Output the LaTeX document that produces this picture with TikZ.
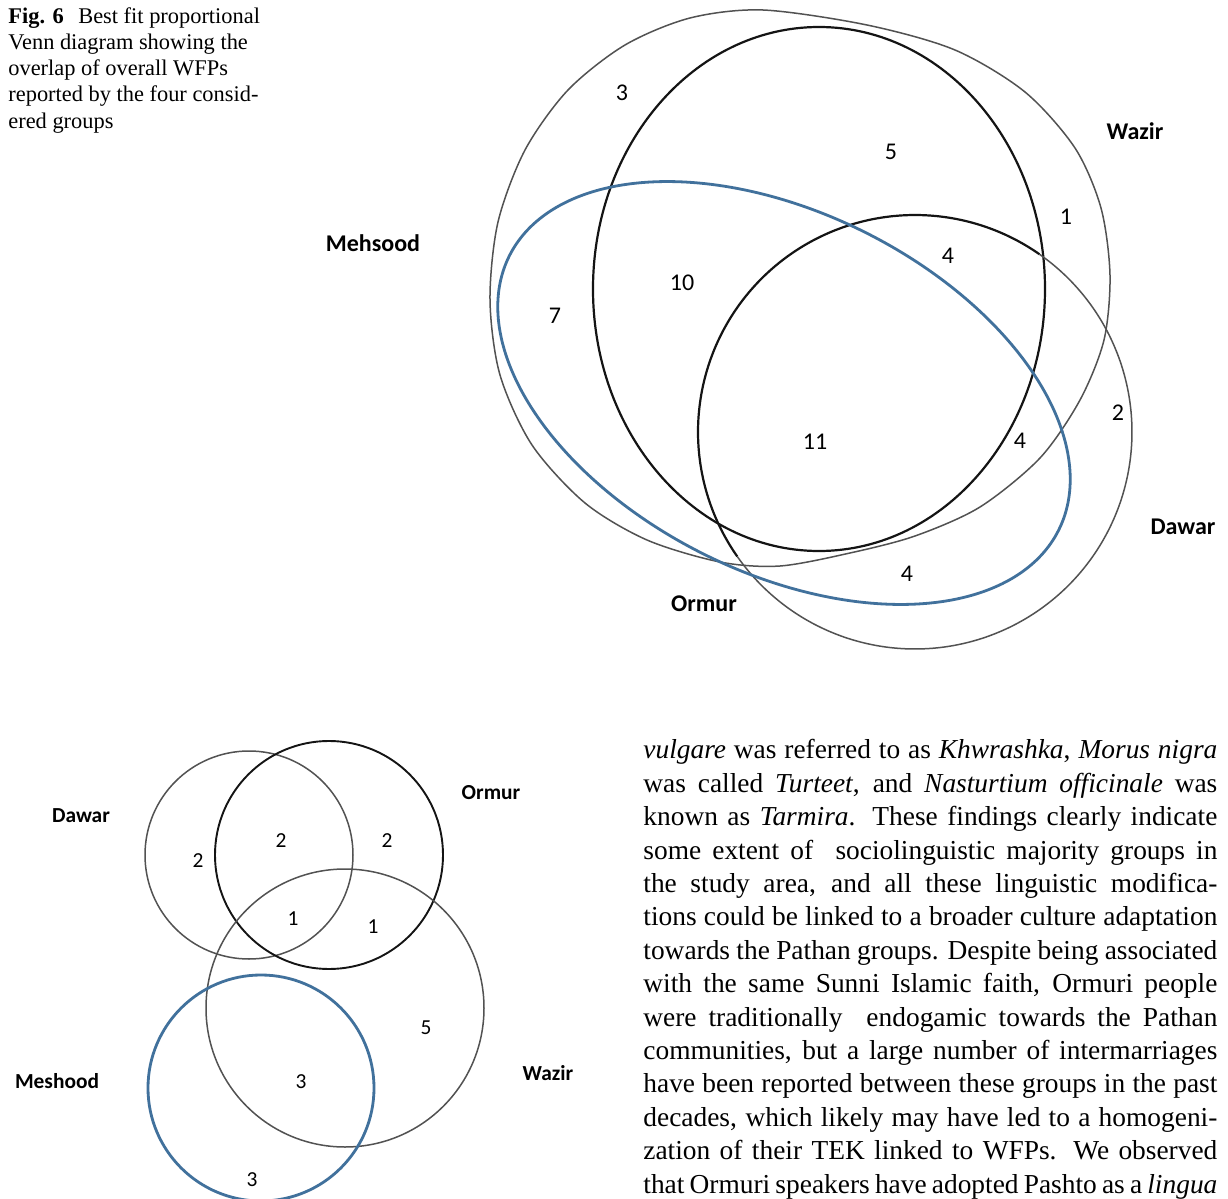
\documentclass[tikz,border=0pt]{standalone}
\usepackage{fontspec}
\setmainfont{Liberation Serif}
\newfontfamily\carlito{Carlito}
\definecolor{vennblue}{HTML}{41719C}
\newcommand{\bodyline}[1]{\makebox[287pt][s]{#1}}
\begin{document}
\begin{tikzpicture}[x=0.5pt,y=-0.5pt,
  thinline/.style={draw=black!68, line width=0.75pt},
  thickline/.style={draw=black!92, line width=1.1pt},
  blueline/.style={draw=vennblue, line width=1.4pt},
  toplabel/.style={font=\carlito\bfseries\fontsize{12}{14}\selectfont, inner sep=0pt},
  topnum/.style={font=\carlito\fontsize{12}{14}\selectfont, inner sep=0pt},
  botlabel/.style={font=\carlito\bfseries\fontsize{10.7}{13}\selectfont, inner sep=0pt},
  botnum/.style={font=\carlito\fontsize{10.7}{13}\selectfont, inner sep=0pt}]
\fill[white] (0,0) rectangle (1228,1199);
\useasboundingbox (0,0) rectangle (1228,1199);
\clip (0,0) rectangle (1228,1199);

% ---------- caption (anchored at the baseline of its last line) ----------
\node[anchor=base west, inner sep=0pt, align=left,
      font=\fontsize{11.2}{13.1}\selectfont] (caption) at (8,128)
  {\textbf{Fig. 6}\hspace{0.65em}Best fit proportional\\
   Venn diagram showing the\\
   overlap of overall WFPs\\
   reported by the four consid-\\
   ered groups};

% ---------- top diagram ----------
% big thin outline
\draw[thinline] plot[smooth cycle] coordinates {
  (763,10) (867,25) (955,50) (1025,92) (1075,148) (1101,208) (1110,275)
  (1104,340) (1080,400) (1040,458) (980,507) (915,536) (850,553)
  (780,566) (720,562) (647,540) (585,503) (532,445) (500,375) (490,300)
  (498,222) (525,150) (568,90) (625,45) (690,18)};
% thick inner ellipse
\draw[thickline] (819,289) ellipse[x radius=226, y radius=262];
% circle
\draw[thickline] plot[domain=55:215, samples=80, smooth]
  ({915+217*cos(\x)},{432-217*sin(\x)});
\draw[thinline] plot[domain=215:415, samples=90, smooth]
  ({915+217*cos(\x)},{432-217*sin(\x)});
% blue tilted ellipse
\draw[blueline] plot[domain=0:360, samples=181, smooth]
  ({784+307*cos(\x)*0.8949-180*sin(\x)*0.4462},
   {393+307*cos(\x)*0.4462+180*sin(\x)*0.8949}) -- cycle;

\node[toplabel] (tWazir) at (1135,131) {Wazir};
\node[toplabel] (tMehsood) at (373,243) {Mehsood};
\node[toplabel] (tDawar) at (1183,527) {Dawar};
\node[toplabel] (tOrmur) at (704,604) {Ormur};

\node[topnum] (n3) at (622,93) {3};
\node[topnum] (n5) at (891,152) {5};
\node[topnum] (n1) at (1066,217) {1};
\node[topnum] (n4a) at (948,256) {4};
\node[topnum] (n10) at (682,283) {10};
\node[topnum] (n7) at (555,316) {7};
\node[topnum] (n11) at (815,442) {11};
\node[topnum] (n4b) at (1020,441) {4};
\node[topnum] (n2) at (1118,413) {2};
\node[topnum] (n4c) at (907,574) {4};

% ---------- bottom diagram ----------
\draw[thinline] (249,855) circle[radius=104];
\draw[thickline, line width=0.95pt] (329,855) circle[radius=114];
\draw[thinline] (345,1008) circle[radius=139];
\draw[blueline] (261,1088) circle[radius=113];

\node[botlabel] (bDawar) at (81,816) {Dawar};
\node[botlabel] (bOrmur) at (491,793) {Ormur};
\node[botlabel] (bMeshood) at (57,1081) {Meshood};
\node[botlabel] (bWazir) at (548,1073) {Wazir};

\node[botnum] (m2a) at (198,861) {2};
\node[botnum] (m2b) at (281,841) {2};
\node[botnum] (m2c) at (387,841) {2};
\node[botnum] (m1a) at (293,919) {1};
\node[botnum] (m1b) at (373,927) {1};
\node[botnum] (m5) at (426,1028) {5};
\node[botnum] (m3a) at (301,1082) {3};
\node[botnum] (m3b) at (252,1180) {3};

% ---------- body text (anchored at the baseline of its last line) ----------
\node[anchor=base west, inner sep=0pt, align=left,
      font=\fontsize{13.7}{16.7}\selectfont] (body) at (643,1193)
  {\bodyline{\textit{vulgare} was referred to as \textit{Khwrashka}, \textit{Morus nigra}}\\
   \bodyline{was called \textit{Turteet}, and \textit{Nasturtium officinale} was}\\
   \bodyline{known as \textit{Tarmira}. These findings clearly indicate}\\
   \bodyline{some extent of\ \ sociolinguistic majority groups in}\\
   \bodyline{the study area, and all these linguistic modifica-}\\
   \bodyline{tions could be linked to a broader culture adaptation}\\
   \bodyline{towards the Pathan groups. Despite being associated}\\
   \bodyline{with the same Sunni Islamic faith, Ormuri people}\\
   \bodyline{were traditionally\ \ endogamic towards the Pathan}\\
   \bodyline{communities, but a large number of intermarriages}\\
   \bodyline{have been reported between these groups in the past}\\
   \bodyline{decades, which likely may have led to a homogeni-}\\
   \bodyline{zation of their TEK linked to WFPs. We observed}\\
   \bodyline{that Ormuri speakers have adopted Pashto as a \textit{lingua}}};
\end{tikzpicture}
\end{document}
